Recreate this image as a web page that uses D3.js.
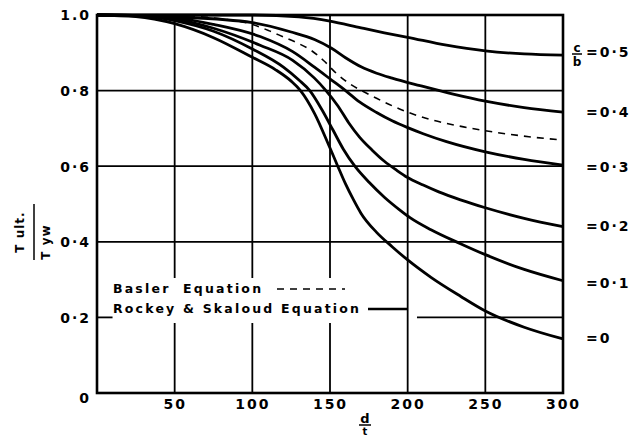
<!DOCTYPE html>
<html>
<head>
<meta charset="utf-8">
<script src="https://cdn.jsdelivr.net/npm/d3@7"></script>
<style>
  body { margin: 0; background: #fff; }
  svg text { font-family: "DejaVu Sans", sans-serif; font-weight: bold; fill: #000; }
</style>
</head>
<body>
<div id="chart"></div>
<script>
// x = d/t, y = T ult / T yw
const xTicks = [50, 100, 150, 200, 250, 300];
const yTicks = [0, 0.2, 0.4, 0.6, 0.8, 1.0];
const yTickLabels = ["0", "0·2", "0·4", "0·6", "0·8", "1.0"];

// Rockey & Skaloud curves, one per c/b
const ratios = ["0", "0·1", "0·2", "0·3", "0·4", "0·5"];
const curve0 = [[0,1],[25,.996],[50,.977],[75,.94],[100,.888],[115,.855],[125,.825],[131,.8],[140,.74],[150,.648],[155,.6],[160,.553],[165,.512],[170,.475],[180,.425],[190,.387],[200,.352],[215,.306],[234,.256],[250,.217],[275,.174],[300,.143]];
const curve01 = [[0,1],[30,.998],[50,.985],[75,.957],[100,.91],[120,.862],[130,.828],[137,.8],[145,.748],[152,.695],[158.6,.645],[166,.6],[175,.558],[185,.518],[195,.484],[201.5,.464],[215,.432],[234,.395],[250,.366],[275,.327],[300,.297]];
const curve02 = [[0,1],[35,.997],[50,.99],[75,.965],[105,.92],[126,.88],[140,.833],[147,.802],[155,.76],[162,.715],[169,.677],[177,.643],[185,.613],[193,.589],[200,.57],[210,.55],[220,.532],[234,.511],[250,.49],[275,.462],[300,.44]];
const curve03 = [[0,1],[40,.997],[75,.975],[105,.943],[126,.903],[140,.862],[151,.828],[160,.8],[169,.77],[180,.742],[190,.72],[200,.702],[210,.686],[225,.665],[250,.638],[275,.618],[300,.603]];
const curve04 = [[0,1],[50,.995],[100,.98],[125,.955],[140,.935],[151,.912],[160,.887],[170,.863],[180,.846],[190,.833],[208,.813],[230,.79],[250,.772],[275,.755],[300,.743]];
const curve05 = [[0,1],[100,1],[130,.995],[150,.984],[170,.966],[185,.953],[200,.941],[225,.92],[250,.905],[275,.897],[300,.894]];
const curves = [curve0, curve01, curve02, curve03, curve04, curve05];

// Basler equation (dashed)
const basler = [[0,1],[40,1],[80,.99],[100,.975],[111,.958],[120,.942],[129,.926],[138,.906],[146,.879],[154,.846],[162,.82],[175,.79],[190,.76],[200,.743],[216,.722],[236,.704],[256,.69],[278,.678],[300,.669]];

const width = 633, height = 439;
const svg = d3.select("#chart").append("svg")
  .attr("width", width).attr("height", height);

const x = d3.scaleLinear().domain([0, 300]).range([97, 563]);
const y = d3.scaleLinear().domain([0, 1]).range([393, 15]);

// grid
const grid = svg.append("g").attr("stroke", "#000").attr("stroke-width", 1.8);
grid.selectAll("line.v").data(xTicks.slice(0, 5)).enter().append("line")
  .attr("x1", d => x(d)).attr("x2", d => x(d))
  .attr("y1", y(0)).attr("y2", y(1));
grid.selectAll("line.h").data([0.4, 0.6, 0.8]).enter().append("line")
  .attr("x1", x(0)).attr("x2", x(300))
  .attr("y1", d => y(d)).attr("y2", d => y(d));
// 0.2 line is cut by the legend
grid.selectAll("line.h2").data([[0, 11], [206, 300]]).enter().append("line")
  .attr("x1", d => x(d[0])).attr("x2", d => x(d[1]))
  .attr("y1", y(0.2)).attr("y2", y(0.2));

// legend area blanks the grid
svg.append("rect")
  .attr("x", x(10)).attr("y", 278)
  .attr("width", x(198) - x(10)).attr("height", 45)
  .attr("fill", "#fff");

// frame
svg.append("rect")
  .attr("x", x(0)).attr("y", y(1))
  .attr("width", x(300) - x(0)).attr("height", y(0) - y(1))
  .attr("fill", "none").attr("stroke", "#000").attr("stroke-width", 2.6);

const line = d3.line()
  .x(d => x(d[0])).y(d => y(d[1]))
  .curve(d3.curveMonotoneX);

svg.selectAll("path.rs").data(curves).enter().append("path")
  .attr("class", "rs")
  .attr("d", line)
  .attr("fill", "none").attr("stroke", "#000").attr("stroke-width", 2.8);

svg.append("path")
  .attr("d", line(basler))
  .attr("fill", "none").attr("stroke", "#000").attr("stroke-width", 1.6)
  .attr("stroke-dasharray", "7,6");

// x axis labels
const xAxis = svg.append("g")
  .attr("transform", `translate(0,${y(0) + 3})`)
  .call(d3.axisBottom(x).tickValues(xTicks).tickSize(0).tickFormat(d3.format("d")));
xAxis.select(".domain").remove();
xAxis.selectAll("text")
  .attr("font-family", null)
  .style("font-size", "14px").style("letter-spacing", "2px");

// y axis labels
const yAxis = svg.append("g")
  .attr("transform", `translate(${x(0) - 3},0)`)
  .call(d3.axisLeft(y).tickValues(yTicks).tickSize(0).tickFormat((d, i) => yTickLabels[i]));
yAxis.select(".domain").remove();
yAxis.selectAll("text")
  .attr("font-family", null)
  .style("font-size", "14px").style("letter-spacing", "2px")
  .attr("dy", (d) => d === 0 ? "0.7em" : "0.35em");

// right-hand c/b labels at the curve ends
svg.selectAll("text.cb").data(curves).enter().append("text")
  .attr("x", 586)
  .attr("y", (d, i) => [338, 283, 226, 167, 112, 52][i])
  .attr("dy", "0.35em")
  .style("font-size", "14px").style("letter-spacing", "2px")
  .text((d, i) => "=" + ratios[i]);

svg.append("text").attr("x", 577).attr("y", 52).attr("text-anchor", "middle")
  .style("font-size", "12px").text("c");
svg.append("line").attr("x1", 572).attr("x2", 582).attr("y1", 54).attr("y2", 54)
  .attr("stroke", "#000").attr("stroke-width", 1.5);
svg.append("text").attr("x", 577).attr("y", 66).attr("text-anchor", "middle")
  .style("font-size", "12px").text("b");

// x title d/t
svg.append("text").attr("x", 365).attr("y", 423).attr("text-anchor", "middle")
  .style("font-size", "13px").text("d");
svg.append("line").attr("x1", 359).attr("x2", 371).attr("y1", 425).attr("y2", 425)
  .attr("stroke", "#000").attr("stroke-width", 1.5);
svg.append("text").attr("x", 365).attr("y", 435).attr("text-anchor", "middle")
  .style("font-size", "10px").text("t");

// y title
const yt = svg.append("g").attr("transform", "translate(0,232)");
yt.append("text").attr("transform", "translate(24,0) rotate(-90)")
  .attr("text-anchor", "middle")
  .style("font-size", "12px").style("letter-spacing", "1px").text("T ult.");
yt.append("line").attr("x1", 34).attr("x2", 34).attr("y1", -28).attr("y2", 28)
  .attr("stroke", "#000").attr("stroke-width", 1.5);
yt.append("text").attr("transform", "translate(50,10) rotate(-90)")
  .attr("text-anchor", "middle")
  .style("font-size", "12px").style("letter-spacing", "1px").text("T yw");

// legend
const leg = svg.append("g");
leg.append("text").attr("x", 113).attr("y", 293)
  .style("font-size", "12.5px").style("letter-spacing", "2.2px").style("word-spacing", "6px")
  .text("Basler Equation");
leg.append("line").attr("x1", 277).attr("x2", 345).attr("y1", 289).attr("y2", 289)
  .attr("stroke", "#000").attr("stroke-width", 1.6).attr("stroke-dasharray", "7,6");
leg.append("text").attr("x", 113).attr("y", 313)
  .style("font-size", "12.5px").style("letter-spacing", "2.2px")
  .text("Rockey & Skaloud Equation");
leg.append("line").attr("x1", 368).attr("x2", x(200)).attr("y1", 309).attr("y2", 309)
  .attr("stroke", "#000").attr("stroke-width", 2.4);
</script>
</body>
</html>
